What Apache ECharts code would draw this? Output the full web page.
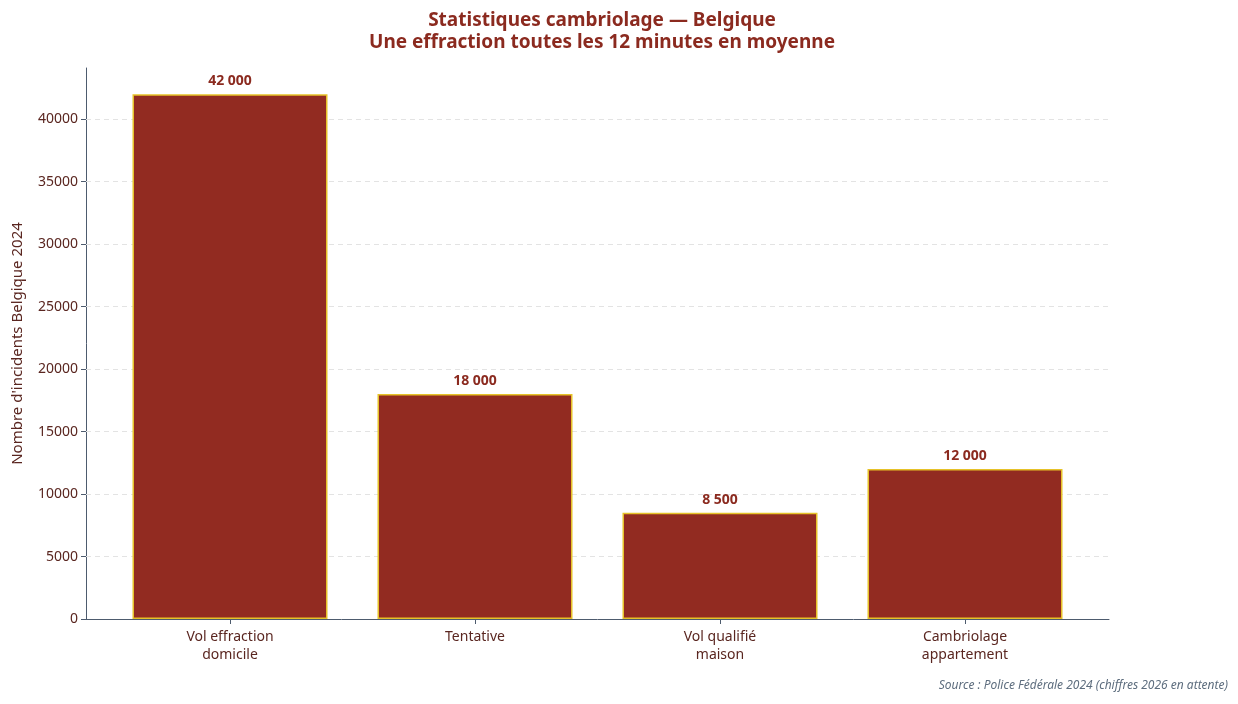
<!DOCTYPE html>
<html>
<head>
<meta charset="utf-8">
<script src="https://cdn.jsdelivr.net/npm/echarts@6/dist/echarts.min.js"></script>
<style>
  html, body { margin: 0; padding: 0; background: #fff; }
  #chart { width: 1238px; height: 704px; }
</style>
</head>
<body>
<div id="chart"></div>
<script>
// données
const categories = ['Vol effraction\ndomicile', 'Tentative', 'Vol qualifié\nmaison', 'Cambriolage\nappartement'];
const incidents = [42000, 18000, 8500, 12000];
const yTicks = [0, 5000, 10000, 15000, 20000, 25000, 30000, 35000, 40000];

const font = 'Noto Sans';
const dark = '#5a2620';
const red = '#922b21';
const yMax = 44100;

const chart = echarts.init(document.getElementById('chart'));
const option = {
  textStyle: { fontFamily: font },
  title: {
    text: 'Statistiques cambriolage — Belgique\nUne effraction toutes les 12 minutes en moyenne',
    left: 597,
    textAlign: 'center',
    top: 5,
    textStyle: { color: '#8b2a1f', fontSize: 19, fontWeight: 'bold', lineHeight: 22, fontFamily: font }
  },
  grid: [
    // cadre complet (axes)
    { left: 86, right: 129, top: 68, bottom: 85, outerBoundsMode: 'none', containLabel: false },
    // zone des barres (marges comme matplotlib)
    { left: 107.5, right: 150.5, top: 68, bottom: 85, outerBoundsMode: 'none', containLabel: false }
  ],
  xAxis: [
    {
      gridIndex: 0, type: 'value', min: 0, max: 1,
      axisLine: { show: true, lineStyle: { color: '#4d5b6e', width: 1 } },
      axisTick: { show: false }, axisLabel: { show: false }, splitLine: { show: false }
    },
    {
      gridIndex: 1, type: 'category', data: categories,
      axisLine: { show: false },
      axisTick: { show: true, alignWithLabel: true, length: 5, lineStyle: { color: '#4d5b6e' } },
      axisLabel: { color: dark, fontSize: 14, lineHeight: 18, margin: 9, fontFamily: font }
    }
  ],
  yAxis: [
    {
      gridIndex: 0, type: 'value', min: 0, max: yMax, interval: 5000,
      name: "Nombre d'incidents Belgique 2024",
      nameLocation: 'middle', nameGap: 61, nameRotate: 90,
      nameTextStyle: { color: dark, fontSize: 15, fontFamily: font },
      axisLine: { show: true, lineStyle: { color: '#4d5b6e', width: 1 } },
      axisTick: { show: true, length: 5, lineStyle: { color: '#4d5b6e' } },
      axisLabel: {
        color: dark, fontSize: 14, margin: 8, fontFamily: font,
        showMaxLabel: false,
        formatter: v => (yTicks.indexOf(v) >= 0 ? String(v) : '')
      },
      splitLine: { show: false }
    },
    {
      gridIndex: 1, type: 'value', min: 0, max: yMax, interval: 5000, show: false,
      splitLine: { show: false }
    }
  ],
  series: [{
    // lignes de grille aux graduations (derrière les barres)
    type: 'line', xAxisIndex: 0, yAxisIndex: 0, data: [], silent: true, z: 0,
    markLine: {
      silent: true, symbol: 'none', label: { show: false },
      lineStyle: { color: '#e3e3e3', type: [5, 4], width: 1 },
      data: yTicks.filter(v => v > 0).map(v => ({ yAxis: v }))
    }
  }, {
    type: 'bar',
    xAxisIndex: 1, yAxisIndex: 1, z: 5,
    data: incidents,
    barWidth: 195,
    itemStyle: { color: red, borderColor: '#e6c229', borderWidth: 1.5 },
    label: {
      show: true, position: 'top', distance: 6,
      color: '#8b2a1f', fontSize: 14, fontWeight: 'bold', fontFamily: font,
      formatter: p => p.value.toString().replace(/\B(?=(\d{3})+(?!\d))/g, ' ')
    }
  }],
  graphic: [{
    type: 'text', right: 10, top: 680,
    style: {
      text: 'Source : Police Fédérale 2024 (chiffres 2026 en attente)',
      fill: '#5d6d7e', font: 'italic 12px "Noto Sans"'
    }
  }]
};
chart.setOption(option);
</script>
</body>
</html>
